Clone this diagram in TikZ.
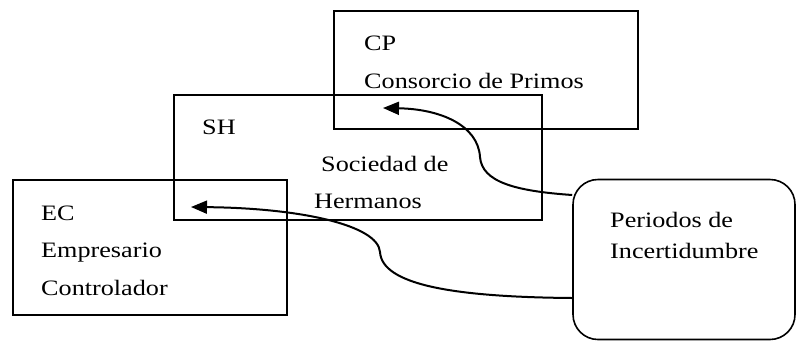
\documentclass[tikz,border=0pt]{standalone}
\usepackage{fontspec}
\setmainfont{Liberation Serif}[FakeStretch=1.19]
\usetikzlibrary{arrows.meta}
\begin{document}
\begin{tikzpicture}[x=1pt,y=-1pt,
  box/.style={draw=black, line width=1.4pt, rectangle, inner sep=0pt},
  pibox/.style={draw=black, line width=1.6pt, rectangle, rounded corners=25pt, inner sep=0pt},
  lbl/.style={anchor=base west, inner sep=0pt, font=\fontsize{22}{26}\selectfont},
  conn/.style={line width=2pt, -{Triangle[length=16pt,width=13pt]}}]
\useasboundingbox (0,0) rectangle (797,341);
% boxes
\node[box, minimum width=304pt, minimum height=118pt] (cp) at (486,70) {};
\node[box, minimum width=368pt, minimum height=125pt] (sh) at (358,157.5) {};
\node[box, minimum width=274pt, minimum height=135pt] (ec) at (150,247.5) {};
\node[pibox, minimum width=222pt, minimum height=160pt] (pi) at (684,259.5) {};
% texts
\node[lbl] (tcp) at (364,50) {CP};
\node[lbl] (tcp2) at (364,88) {Consorcio de Primos};
\node[lbl] (tsh) at (202,134) {SH};
\node[lbl] (tsh2) at (321,171) {Sociedad de};
\node[lbl] (tsh3) at (314,208) {Hermanos};
\node[lbl] (tec) at (41,220) {EC};
\node[lbl] (tec2) at (41,257) {Empresario};
\node[lbl] (tec3) at (41,295) {Controlador};
\node[lbl] (tpi) at (610,227) {Periodos de};
\node[lbl] (tpi2) at (610,258) {Incertidumbre};
% connector endpoints
\coordinate (s1) at (pi.west |- 0,195);
\coordinate (s2) at (pi.west |- 0,298);
\coordinate (e1) at (383,108);
\coordinate (e2) at (191,207);
\coordinate (k1) at (480,157);
\coordinate (k2) at (380,252);
% connectors
\draw[conn] (s1) .. controls (515,191) and (482,182) .. (k1)
  .. controls (478,125) and (440,109) .. (e1);
\draw[conn] (s2) .. controls (450,297) and (382,284) .. (k2)
  .. controls (378,225) and (300,208) .. (e2);
\end{tikzpicture}
\end{document}
